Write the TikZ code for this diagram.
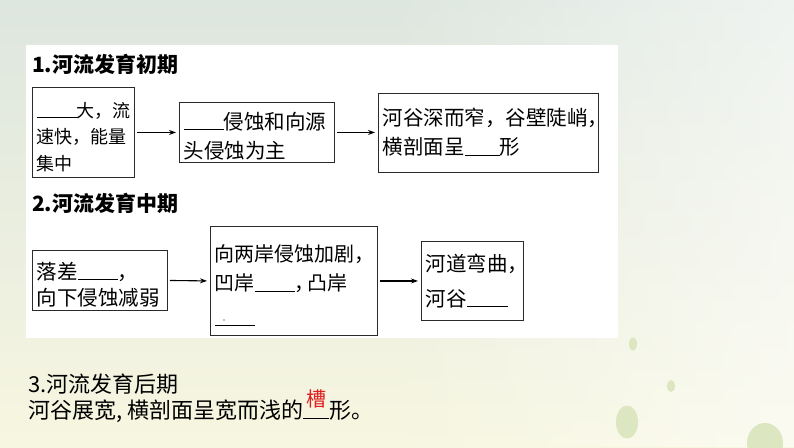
\documentclass[tikz,border=0pt]{standalone}
\usepackage{fontspec}
\setmainfont{Noto Sans CJK SC}
\usetikzlibrary{arrows.meta,fadings}
\definecolor{bgtop}{HTML}{DDE6DF}
\definecolor{bgbot}{HTML}{F7F6E0}
\definecolor{dotgreen}{HTML}{DCE6C0}
\definecolor{ansred}{HTML}{E01E1E}
\definecolor{boxline}{HTML}{2A2A2A}
\newcommand{\blank}[1]{\rule[-0.5pt]{#1pt}{0.8pt}}
\newcommand{\lift}[1]{\rule{0pt}{#1pt}}
\begin{document}
\begin{tikzpicture}[x=1pt,y=-1pt,
  stepbox/.style={draw=boxline, line width=0.9pt, align=left, inner xsep=4.5pt, inner ysep=2pt, anchor=north west, fill=white},
  sectitle/.style={anchor=base west, inner sep=0pt, font=\fontsize{21}{25}\selectfont\bfseries},
  plaintext/.style={anchor=base west, inner sep=0pt, font=\fontsize{22}{26}\selectfont},
  arr/.style={-{Stealth[length=7pt,width=5pt]}, line width=1.1pt, black, shorten <=2pt, shorten >=3pt}]
\useasboundingbox (0,0) rectangle (794,447);
% background
\shade[top color=bgtop, bottom color=bgbot] (0,0) rectangle (794,447);
\fill[white, opacity=0.55, path fading=west] (380,0) rectangle (794,447);
\fill[dotgreen] (633,344) ellipse [x radius=4pt, y radius=6.5pt];
\fill[dotgreen] (671,386) ellipse [x radius=4pt, y radius=6pt];
\fill[dotgreen] (627,422) ellipse [x radius=11pt, y radius=16.5pt];
\fill[dotgreen] (765,443) ellipse [x radius=18pt, y radius=20pt];
% white panel
\fill[white] (26,45) rectangle (618,338);

% section 1
\node[sectitle] (t1) at (32,72) {1.河流发育初期};
\node[stepbox, text width=93pt, minimum height=90pt, font=\fontsize{18}{26.5}\selectfont] (b1) at (32,87)
  {\lift{24.5}\blank{40}大，流\\速快，能量\\集中};
\node[stepbox, text width=146pt, minimum height=60pt, font=\fontsize{20.5}{29}\selectfont] (b2) at (179,102)
  {\lift{24}\blank{40}侵蚀和向源\\头侵蚀为主};
\node[stepbox, text width=211pt, minimum height=79pt, font=\fontsize{20.5}{29}\selectfont] (b3) at (378,92.5)
  {河谷深而窄，谷壁陡峭，\\横剖面呈\blank{35}形};
\draw[arr] (b1.east) -- (b2.west);
\draw[arr] (b2.east) -- (b2.east -| b3.west);

% section 2
\node[sectitle] (t2) at (32,211) {2.河流发育中期};
\node[stepbox, text width=126pt, minimum height=60pt, font=\fontsize{20.5}{26}\selectfont] (b4) at (32,250)
  {\lift{26}落差\blank{40}，\\向下侵蚀减弱};
\node[stepbox, text width=158pt, minimum height=109pt, font=\fontsize{20}{29}\selectfont] (b5) at (210,226)
  {\lift{26}向两岸侵蚀加剧，\\凹岸\blank{40}\makebox[13pt][l]{，}凸岸\\[5.5pt]\blank{40}};
\fill[black] (224,320) circle (0.7pt);
\node[stepbox, text width=93pt, minimum height=79pt, font=\fontsize{20.5}{35}\selectfont] (b6) at (421,241)
  {河道弯曲，\\河谷\blank{41}};
\draw[arr] (b4.east) -- (b5.west);
\draw[arr] (b5.east) -- (b6.west);

% section 3
\node[plaintext] (t3) at (28,392) {3.河流发育后期};
\node[plaintext] (l3) at (28,418)
  {河谷展宽\makebox[11pt][l]{,}横剖面呈宽而浅的\rule[-1pt]{26pt}{0.8pt}形。};
\node[anchor=base, inner sep=0pt, text=ansred, font=\fontsize{20}{24}\selectfont] (ans) at (316,406) {槽};
\end{tikzpicture}
\end{document}
